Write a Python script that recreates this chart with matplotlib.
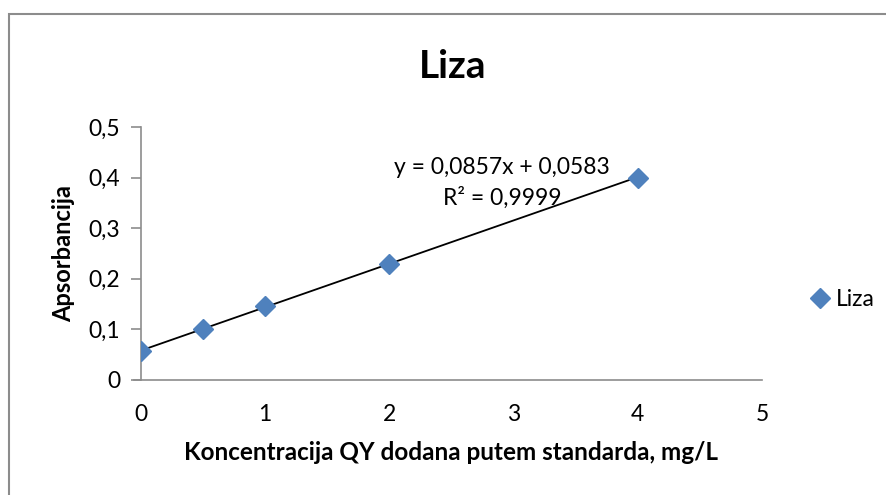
import matplotlib.pyplot as plt
from matplotlib.patches import Rectangle

# data
conc = [0, 0.5, 1, 2, 4]
absorb = [0.058, 0.101, 0.147, 0.230, 0.400]
slope = 0.0857
intercept = 0.0583
x_ticks = [0, 1, 2, 3, 4, 5]
y_ticks = [0, 0.1, 0.2, 0.3, 0.4, 0.5]

plt.rcParams['font.family'] = ['Lato', 'DejaVu Sans']

fig = plt.figure(figsize=(8.86, 4.95), dpi=100)
# chart frame like in Excel (right and bottom edges fall outside the picture)
fig.patches.append(Rectangle((9/886, -0.2), 2, 1.2 - 14/495, transform=fig.transFigure,
                             fill=False, edgecolor='#8c8c8c', linewidth=1.5))

ax = fig.add_axes([141/886, 1 - 380/495, (762 - 141)/886, (380 - 127)/495])

ax.plot(conc, absorb, 'D', color='#4F81BD', markersize=10, label='Liza', zorder=3)
fit_x = [conc[0], conc[-1]]
fit_y = [slope * v + intercept for v in fit_x]
ax.plot(fit_x, fit_y, color='black', linewidth=1.3, zorder=2)

ax.set_xlim(0, 5)
ax.set_ylim(0, 0.5)
ax.set_xticks(x_ticks)
ax.set_yticks(y_ticks)
ax.set_xticklabels([str(v) for v in x_ticks], fontsize=16.5)
ax.set_yticklabels([('%g' % v).replace('.', ',') for v in y_ticks], fontsize=16.5)
ax.tick_params(axis='x', length=0, pad=17)
ax.tick_params(axis='y', length=7, width=1.2, color='#8c8c8c', pad=8)

for s in ['top', 'right']:
    ax.spines[s].set_visible(False)
for s in ['left', 'bottom']:
    ax.spines[s].set_color('#8c8c8c')
    ax.spines[s].set_linewidth(1.2)
ax.spines['bottom'].set_bounds(-0.06, 5)
ax.spines['bottom'].set_clip_on(False)

ax.set_xlabel('Koncentracija QY dodana putem standarda, mg/L', fontsize=17.5,
              fontweight='bold', labelpad=12)
ax.set_ylabel('Apsorbancija', fontsize=17, fontweight='bold', labelpad=10)

fig.text(453/886, 1 - 66/495, 'Liza', fontsize=28, fontweight='bold',
         ha='center', va='center')

ax.text(502/886, 1 - 167/495, 'y = 0,0857x + 0,0583', transform=fig.transFigure,
        fontsize=16.5, ha='center', va='center')
ax.text(502/886, 1 - 198/495, 'R² = 0,9999', transform=fig.transFigure,
        fontsize=16.5, ha='center', va='center')

fig.legend(loc='center left', bbox_to_anchor=(797/886, 1 - 300/495), frameon=False,
           fontsize=16.5, handletextpad=0.1, handlelength=1.2, borderaxespad=0)

fig.savefig('out.png', dpi=100)
